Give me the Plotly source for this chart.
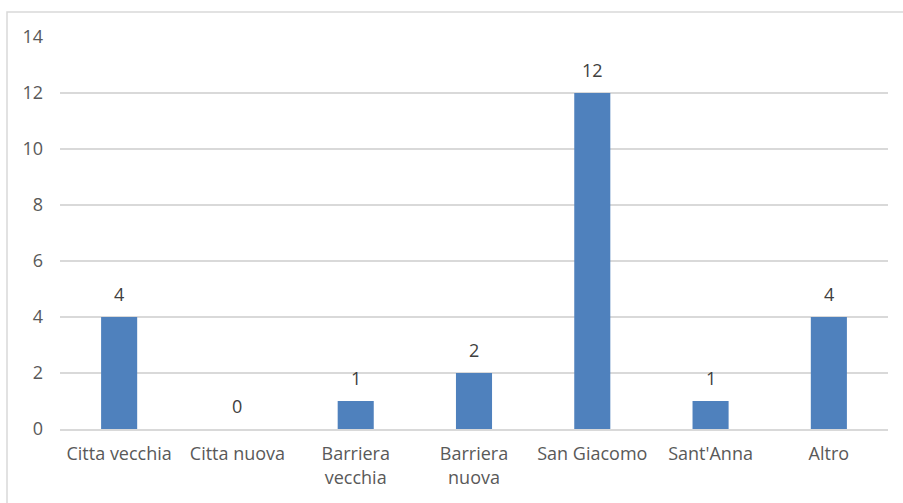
import plotly.graph_objects as go

categories = ["Citta vecchia", "Citta nuova", "Barriera<br>vecchia", "Barriera<br>nuova",
              "San Giacomo", "Sant'Anna", "Altro"]
values = [4, 0, 1, 2, 12, 1, 4]
y_ticks = [0, 2, 4, 6, 8, 10, 12, 14]

W, H = 903, 503
L, R, T, B = 60, 15, 37, 74
pw, ph = W - L - R, H - T - B
FONT = "Open Sans"
FS = 18

fig = go.Figure(go.Bar(
    x=categories, y=values,
    marker=dict(color="#4F81BD", line=dict(width=0)),
    cliponaxis=False,
))

for c, v in zip(categories, values):
    fig.add_annotation(x=c, y=v, text=str(v), showarrow=False, yanchor="bottom",
                       yshift=9, font=dict(family=FONT, size=FS, color="#404040"))

fig.update_layout(
    width=W, height=H,
    margin=dict(l=L, r=R, t=T, b=B),
    paper_bgcolor="white", plot_bgcolor="white",
    bargap=0.695,
    showlegend=False,
    font=dict(family=FONT, size=FS, color="#595959"),
    xaxis=dict(showgrid=False, showline=True, linecolor="#D9D9D9", linewidth=1.5,
               ticks="", tickfont=dict(size=FS, color="#595959"), ticklabelstandoff=8),
    yaxis=dict(range=[0, 14], tickvals=y_ticks, showgrid=True, gridcolor="#D9D9D9",
               gridwidth=1.5, zeroline=False, showline=False, ticks="",
               tickfont=dict(size=FS, color="#595959"), ticklabelstandoff=16),
    shapes=[dict(type="rect", xref="paper", yref="paper",
                 x0=(7 - L) / pw, x1=(W + 5 - L) / pw,
                 y0=-(H + 5 - T - ph) / ph, y1=1 + (T - 12) / ph,
                 line=dict(color="#D9D9D9", width=1.5), fillcolor="rgba(0,0,0,0)")],
)

fig.write_html("out.html")
